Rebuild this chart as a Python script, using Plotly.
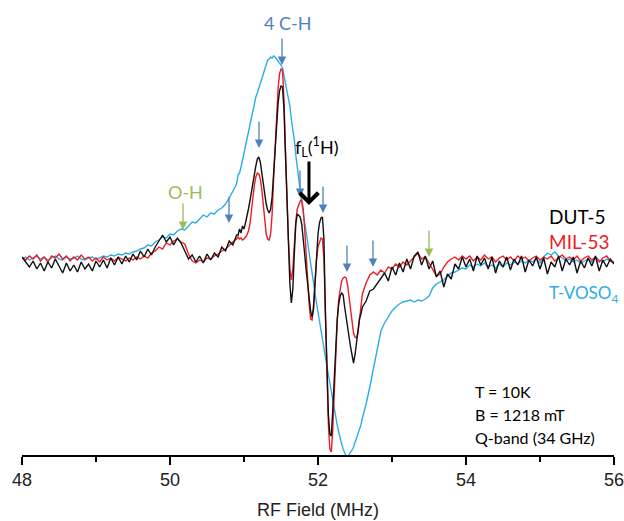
import numpy as np
import plotly.graph_objects as go

# ---------------- data (RF frequency in MHz, signal in arbitrary units) ----------------
# three sampling segments: coarse / fine (central lines) / coarse
x_a = np.round(48.00 + 0.05 * np.arange(59), 3)
x_b = np.round(50.92 + 0.02 * np.arange(85), 3)
x_c = np.round(52.65 + 0.05 * np.arange(68), 3)

dut5_a = [2, -3, -8, -2, -10, -4, -12, -3, -9, 0,
          -7, -14, -4, -12, -6, -13, -3, -10, -5, -12,
          -2, -8, -1, -9, 1, -6, 2, -5, 3, -3,
          5, -1, 8, 2, 10, 4, 12, 18, 24, 17,
          22, 14, 21, 16, 8, 0, 4, -3, 3, -4,
          5, -1, 6, 2, 12, 8, 18, 14, 24]
dut5_b = [24, 30, 26, 33, 30, 36, 42, 50, 58, 68,
          78, 86, 93, 100, 102, 97, 85, 76, 66, 55,
          49, 46, 50, 62, 85, 110, 135, 155, 168, 173,
          172, 150, 105, 60, 15, -25, -44, -30, 5, 35,
          45, 43, 42, 35, 22, 5, -11, -25, -40, -52,
          -58, -50, -25, 5, 25, 36, 41, 42, 20, -54,
          -110, -155, -175, -177, -150, -120, -85, -60, -45, -37,
          -34, -36, -48, -60, -70, -78, -88, -98, -104, -96,
          -82, -70, -60, -55, -48]
dut5_c = [-42, -32, -30, -25, -20, -14, -22, -8, -16, -4,
          -13, 0, -10, 3, 7, -6, 3, -10, -2, -18,
          -12, -28, -15, -20, -5, -10, 2, -8, 0, -12,
          3, -6, 1, -10, 2, -14, -2, -8, 2, -11,
          0, -6, 3, -13, -1, -7, 2, -10, 1, -15,
          -3, -8, 3, -12, 0, -6, 2, -14, -2, -9,
          1, -7, 3, -12, -1, -8, 0, -5]

mil53_a = [2, -1, 3, 0, 4, -2, 2, -3, 3, 1,
           5, 0, 3, -2, 2, -1, 4, 0, 2, -2,
           1, -3, 2, -1, 1, -2, 2, 0, -2, 1,
           -1, 2, 0, 3, 1, 6, 8, 12, 10, 16,
           14, 18, 20, 17, 15, 5, -2, -4, -1, -3,
           1, 0, 3, 5, 8, 10, 14, 17, 20]
mil53_b = [22, 20, 21, 19, 20, 22, 24, 28, 35, 48,
           62, 74, 82, 86, 85, 80, 70, 55, 38, 25,
           20, 19, 25, 45, 80, 115, 145, 170, 185, 190,
           189, 160, 110, 60, 20, -10, -21, -10, 15, 38,
           50, 55, 58, 59, 50, 30, 0, -25, -45, -60,
           -61, -45, -20, 0, 12, 18, 21, 20, 0, -54,
           -115, -165, -190, -193, -170, -130, -95, -62, -40, -28,
           -22, -19, -18, -19, -26, -38, -52, -65, -74, -78,
           -79, -74, -62, -48, -35]
mil53_c = [-24, -16, -13, -16, -11, -14, -8, -10, -5, -8,
           -3, -6, -2, 2, 6, 0, 2, -4, -10, -17,
           -15, -8, -3, 0, 2, -1, 3, 0, 3, -2,
           2, -1, 4, 0, 2, -3, 1, 3, -1, 2,
           -2, 3, 0, 2, -2, 1, 3, -1, 2, 0,
           3, -2, 1, 4, 0, 2, -1, 3, -2, 1,
           3, -1, 2, -3, 1, 3, -2, -4]

tvoso4_a = [0, 2, -1, 1, 3, 0, 2, -1, 1, 3,
            0, -1, 2, 0, 1, 3, 0, -1, 1, 2,
            0, 1, 3, 2, 4, 3, 5, 4, 6, 5,
            7, 8, 10, 11, 14, 13, 17, 19, 22, 21,
            25, 24, 28, 30, 29, 33, 37, 36, 40, 44,
            42, 46, 45, 49, 51, 55, 61, 68, 75]
tvoso4_b = [84, 86, 92, 99, 106, 113, 121, 129, 136, 143,
            150, 156, 162, 166, 171, 175, 180, 186, 191, 195,
            199, 200, 202, 201, 203, 202, 200, 199, 196, 194,
            191, 184, 176, 169, 162, 153, 140, 130, 119, 104,
            90, 78, 68, 56, 47, 38, 27, 17, 6, -5,
            -16, -25, -34, -44, -53, -63, -73, -82, -90, -98,
            -107, -116, -124, -134, -142, -150, -158, -166, -173, -180,
            -185, -190, -194, -197, -198, -196, -193, -191, -188, -184,
            -179, -174, -170, -166, -159]
tvoso4_c = [-145, -128, -110, -90, -72, -64, -58, -52, -48, -45,
            -43, -42, -41, -43, -41, -42, -40, -37, -29, -25,
            -23, -21, -17, -14, -13, -11, -9, -10, -6, -8,
            -5, -7, -4, -8, -6, -9, -5, -8, -4, -6,
            -3, -5, -2, -4, -1, -3, 0, -4, 2, 6,
            4, 7, 3, 1, -2, 0, -3, -1, -4, -2,
            0, -3, 2, -1, -3, 0, -2, -3]

for seg in (dut5_a, mil53_a, tvoso4_a):
    assert len(seg) == len(x_a), len(seg)
for seg in (dut5_b, mil53_b, tvoso4_b):
    assert len(seg) == len(x_b), len(seg)
for seg in (dut5_c, mil53_c, tvoso4_c):
    assert len(seg) == len(x_c), len(seg)

x_all = np.concatenate([x_a, x_b, x_c])
series = [
    ("T-VOSO4", tvoso4_a + tvoso4_b + tvoso4_c, "#2AAEE6"),
    ("MIL-53", mil53_a + mil53_b + mil53_c, "#EE1C25"),
    ("DUT-5", dut5_a + dut5_b + dut5_c, "#111111"),
]

# peak markers (arrow tips)
ch_arrow_x = [51.514, 51.203, 50.797, 51.757, 52.068, 52.392, 52.743]
ch_arrow_y = [194, 111, 36, 62, 46, -13, -8]
oh_arrow_x = [50.176, 53.50]
oh_arrow_y = [29, 2]
larmor_x, larmor_y = 51.878, 54

tick_vals = [48, 50, 52, 54, 56]
minor_vals = [49, 51, 53, 55]

BLUE_ARROW = "#4F81BD"
GREEN = "#9BBB59"
ANN_FONT = "Lato"

fig = go.Figure()
for name, y, color in series:
    fig.add_trace(go.Scatter(x=x_all, y=y, mode="lines", name=name,
                             line=dict(color=color, width=1.4)))

anns = []
for xa, ya in zip(ch_arrow_x, ch_arrow_y):
    anns.append(dict(x=xa, y=ya, xref="x", yref="y", text="", showarrow=True,
                     ax=0, ay=-28, arrowcolor=BLUE_ARROW, arrowwidth=1.3,
                     arrowhead=2, arrowsize=1.3, standoff=0))
for xa, ya in zip(oh_arrow_x, oh_arrow_y):
    anns.append(dict(x=xa, y=ya, xref="x", yref="y", text="", showarrow=True,
                     ax=0, ay=-28, arrowcolor=GREEN, arrowwidth=1.3,
                     arrowhead=2, arrowsize=1.3, standoff=0))
anns.append(dict(x=larmor_x, y=larmor_y, xref="x", yref="y", text="", showarrow=True,
                 ax=0, ay=-45, arrowcolor="black", arrowwidth=3,
                 arrowhead=4, arrowsize=1.2, standoff=0))

def label(text, x, y, color, size=17, xanchor="center"):
    anns.append(dict(x=x, y=y, xref="x", yref="y", text=text, showarrow=False,
                     xanchor=xanchor, yanchor="middle",
                     font=dict(family=ANN_FONT, size=size, color=color)))

label("4 C-H", 51.595, 236, BLUE_ARROW, 18)
label("O-H", 50.203, 67, GREEN, 18)
label("f<sub>L</sub>(<sup>1</sup>H)", 51.986, 112, "black", 18)
label("DUT-5", 55.095, 43, "black", 19, "left")
label("MIL-53", 55.095, 18, "#EE1C25", 19, "left")
label("T-VOSO<sub>4</sub>", 55.095, -35, "#2AAEE6", 17, "left")
label("T = 10K", 54.095, -132, "black", 16, "left")
label("B = 1218 mT", 54.095, -155, "black", 16, "left")
label("Q-band (34 GHz)", 54.095, -178, "black", 16, "left")

fig.update_layout(
    width=624, height=521,
    margin=dict(l=22, r=10, t=0, b=66, autoexpand=False),
    paper_bgcolor="white", plot_bgcolor="white",
    showlegend=False,
    annotations=anns,
    xaxis=dict(range=[48, 56], tickvals=tick_vals, ticks="outside", ticklen=8,
               tickwidth=1.5, tickcolor="black", showline=True, linecolor="black",
               linewidth=1.5, showgrid=False, zeroline=False, automargin=False,
               ticklabeloverflow="allow",
               tickfont=dict(family="Liberation Sans", size=18, color="#222"),
               title=dict(text="RF Field (MHz)", standoff=14,
                          font=dict(family="Liberation Sans", size=18, color="#222")),
               minor=dict(tickvals=minor_vals, ticks="outside", ticklen=5,
                          tickwidth=1.5, tickcolor="black", showgrid=False)),
    yaxis=dict(range=[-196, 259], visible=False),
)

# remove the default page margin so the 624x521 figure fills the window exactly
fig.write_html("out.html",
               config={"displayModeBar": False},
               post_script="document.body.style.margin='0';"
                           "document.body.style.overflow='hidden';")
